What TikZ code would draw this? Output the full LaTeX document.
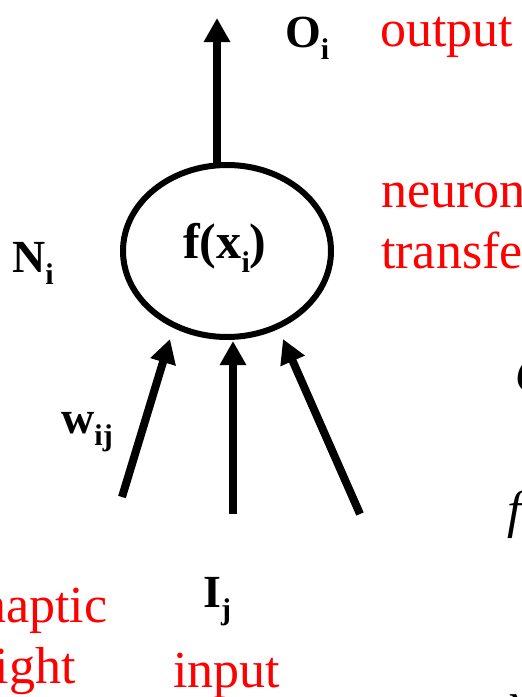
\documentclass[tikz,border=0pt]{standalone}
\usepackage{fontspec}
\setmainfont{Liberation Serif}
\usetikzlibrary{arrows.meta,shapes.geometric}
\definecolor{lblred}{RGB}{255,0,0}
\newcommand\sbx[1]{\raisebox{-0.28em}{\fontsize{30}{30}\selectfont #1}}
\tikzset{
  redlbl/.style={text=lblred,font=\fontsize{52}{61}\selectfont,inner sep=0pt,anchor=base west,align=left},
  boldlbl/.style={font=\fontsize{46}{50}\selectfont\bfseries,inner sep=0pt,anchor=base west},
  mathlbl/.style={font=\fontsize{52}{60}\selectfont\itshape,inner sep=0pt,anchor=base west},
  sig/.style={line width=8pt,-{Triangle[length=24pt,width=25pt]}},
  neuron/.style={ellipse,draw,line width=6pt,minimum width=208pt,minimum height=172pt,inner sep=0pt}
}
\begin{document}
\begin{tikzpicture}[x=1pt,y=-1pt]
\useasboundingbox (0,0) rectangle (522,697);
\clip (0,0) rectangle (522,697);
% neuron
\node[neuron] (n) at (227,251) {};
\node[boldlbl,font=\fontsize{50}{54}\selectfont\bfseries] (fx) at (183,258) {f(x\sbx{i})};
% output
\coordinate (otip) at (217,18);
\coordinate (obase) at (217,165);
\draw[sig] (obase) -- (otip);
% inputs
\coordinate (t1) at (122,497);
\coordinate (h1) at (170,339);
\coordinate (t2) at (233,514);
\coordinate (h2) at (233,341);
\coordinate (t3) at (360,514);
\coordinate (h3) at (283,339);
\draw[sig] (t1) -- (h1);
\draw[sig] (t2) -- (h2);
\draw[sig] (t3) -- (h3);
% bold labels
\node[boldlbl] (oi) at (285,47) {O\sbx{i}};
\node[boldlbl] (ni) at (12,272) {N\sbx{i}};
\node[boldlbl] (wij) at (61,433) {w\sbx{ij}};
\node[boldlbl] (ij) at (203,607) {I\sbx{j}};
% red labels (base anchor = last line)
\node[redlbl] (outl) at (380,46) {output};
\node[redlbl] (neul) at (381,268) {neuron\\transfer function};
\node[redlbl] (synl) at (-66,683) {synaptic\\weight};
\node[redlbl] (inl) at (173,687) {input};
% partial formulas on the right
\node[mathlbl] (m1) at (515,392) {O};
\node[mathlbl] (m2) at (507,527) {f};
\node[mathlbl] (m3) at (507,718) {x};
\end{tikzpicture}
\end{document}
